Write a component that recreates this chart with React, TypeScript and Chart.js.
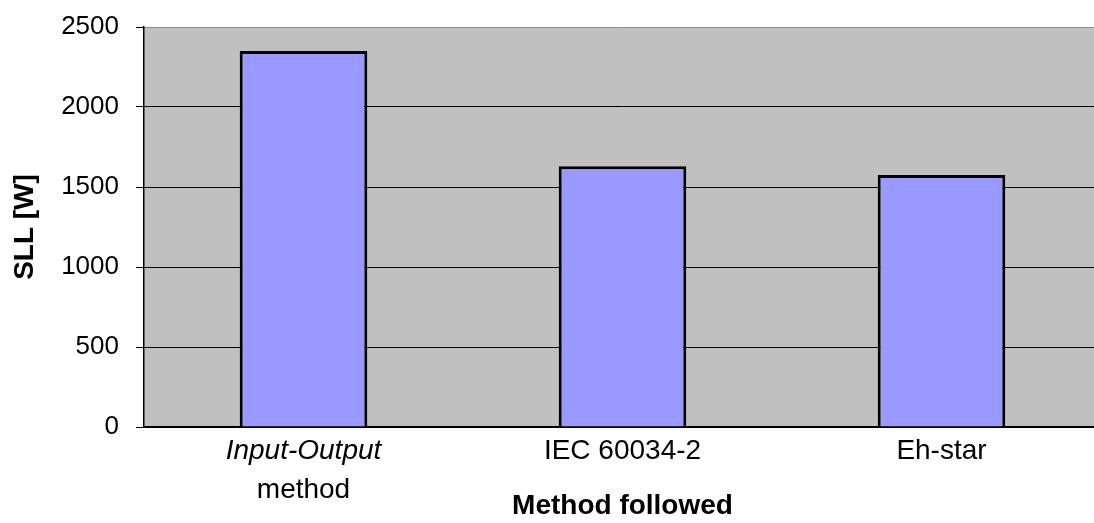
import React, { useEffect, useRef } from "react";
import { Chart, registerables } from "chart.js";

Chart.register(...registerables);

// Category labels, one entry per line; the first line of the first category is italic.
const categoryLines: string[][] = [["Input-Output", "method"], ["IEC 60034-2"], ["Eh-star"]];
const categoryLineStyles: string[][] = [["italic", "normal"], ["normal"], ["normal"]];
const sllValues: number[] = [2350, 1630, 1575];
const yMin = 0;
const yMax = 2500;
const yStep = 500;

const FONT = "'Liberation Sans', Arial, Helvetica, sans-serif";

const plotBackground = {
  id: "plotBackground",
  beforeDraw(chart: any) {
    const { ctx, chartArea: a } = chart;
    ctx.save();
    ctx.fillStyle = "#C0C0C0";
    ctx.fillRect(a.left, a.top, a.right - a.left, a.bottom - a.top);
    ctx.restore();
  },
};

const categoryLabels = {
  id: "categoryLabels",
  afterDraw(chart: any) {
    const { ctx } = chart;
    const xs = chart.scales.x;
    ctx.save();
    ctx.fillStyle = "#000";
    ctx.textAlign = "center";
    ctx.textBaseline = "middle";
    categoryLines.forEach((lines, i) => {
      const px = xs.getPixelForValue(i);
      lines.forEach((line, j) => {
        ctx.font = `${categoryLineStyles[i][j]} 28px ${FONT}`;
        ctx.fillText(line, px, xs.top + 24 + j * 39);
      });
    });
    ctx.restore();
  },
};

export default function App() {
  const canvasRef = useRef<HTMLCanvasElement | null>(null);

  useEffect(() => {
    const canvas = canvasRef.current;
    if (!canvas) return;
    const chart = new Chart(canvas, {
      type: "bar",
      data: {
        labels: categoryLines.map((l) => l.join(" ")),
        datasets: [
          {
            data: sllValues,
            backgroundColor: "#9999FF",
            borderColor: "#000000",
            borderWidth: 3,
            barPercentage: 0.4,
            categoryPercentage: 1,
          },
        ],
      },
      options: {
        animation: false,
        responsive: false,
        maintainAspectRatio: false,
        devicePixelRatio: 1,
        layout: { padding: { top: 27, left: 0, right: 0, bottom: 0 } },
        plugins: {
          legend: { display: false },
          tooltip: { enabled: false },
        },
        scales: {
          x: {
            afterFit: (s: any) => {
              s.height = 96;
              s.paddingLeft = 0;
              s.paddingRight = 0;
            },
            grid: { display: false, drawTicks: false },
            border: { color: "#000", width: 1.5 },
            ticks: { display: false },
            title: {
              display: true,
              text: "Method followed",
              color: "#000",
              font: { family: FONT, size: 28, weight: "bold" },
              padding: 0,
            },
          },
          y: {
            min: yMin,
            max: yMax,
            afterFit: (s: any) => {
              s.width = 144;
              s.paddingTop = 0;
              s.paddingBottom = 0;
            },
            ticks: {
              stepSize: yStep,
              color: "#000",
              font: { family: FONT, size: 26 },
              padding: 17,
              callback: (v: any) => String(v),
            },
            grid: {
              color: (c: any) => (c.tick && c.tick.value === yMax ? "#8c8c8c" : "#000"),
              lineWidth: 1,
              tickLength: 8,
              tickColor: "#000",
            },
            border: { color: "#000", width: 1.5 },
            title: {
              display: true,
              text: "SLL [W]",
              color: "#000",
              font: { family: FONT, size: 28, weight: "bold" },
              padding: { top: 8, bottom: 0 },
            },
          },
        },
      },
      plugins: [plotBackground, categoryLabels],
    });
    return () => chart.destroy();
  }, []);

  return (
    <div
      style={{
        position: "fixed",
        left: 0,
        top: 0,
        width: 1094,
        height: 523,
        overflow: "hidden",
        background: "#fff",
      }}
    >
      <canvas ref={canvasRef} width={1101} height={523} style={{ display: "block" }} />
    </div>
  );
}
